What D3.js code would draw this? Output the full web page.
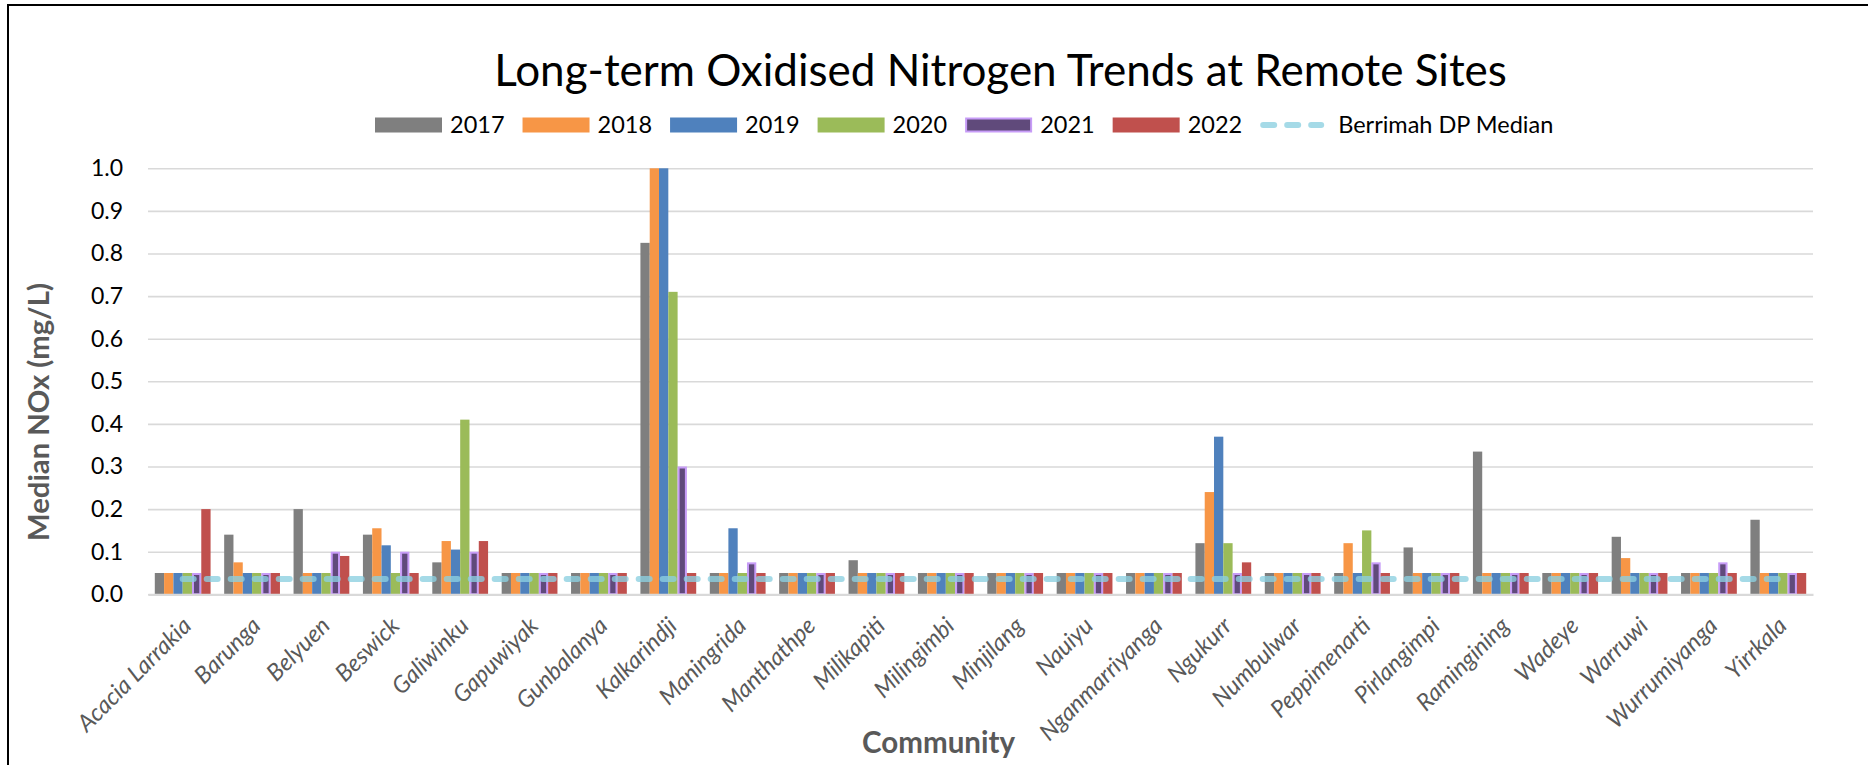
<!DOCTYPE html>
<html>
<head>
<meta charset="utf-8">
<script src="https://cdn.jsdelivr.net/npm/d3@7"></script>
<style>
  html, body { margin: 0; padding: 0; background: #fff; }
  svg { display: block; }
  text { font-family: Lato, "Open Sans", sans-serif; }
</style>
</head>
<body>
<svg id="chart" width="1868" height="765"></svg>
<script>
// ---------------- DATA ----------------
const categories = ["Acacia Larrakia","Barunga","Belyuen","Beswick","Galiwinku","Gapuwiyak","Gunbalanya","Kalkarindji","Maningrida","Manthathpe","Milikapiti","Milingimbi","Minjilang","Nauiyu","Nganmarriyanga","Ngukurr","Numbulwar","Peppimenarti","Pirlangimpi","Ramingining","Wadeye","Warruwi","Wurrumiyanga","Yirrkala"];
const years = ["2017","2018","2019","2020","2021","2022"];
const v2017 = [0.05,0.14,0.2,0.14,0.075,0.05,0.05,0.825,0.05,0.05,0.08,0.05,0.05,0.05,0.05,0.12,0.05,0.05,0.11,0.335,0.05,0.135,0.05,0.175];
const v2018 = [0.05,0.075,0.05,0.155,0.125,0.05,0.05,1.0,0.05,0.05,0.05,0.05,0.05,0.05,0.05,0.24,0.05,0.12,0.05,0.05,0.05,0.085,0.05,0.05];
const v2019 = [0.05,0.05,0.05,0.115,0.105,0.05,0.05,1.0,0.155,0.05,0.05,0.05,0.05,0.05,0.05,0.37,0.05,0.05,0.05,0.05,0.05,0.05,0.05,0.05];
const v2020 = [0.05,0.05,0.05,0.05,0.41,0.05,0.05,0.71,0.05,0.05,0.05,0.05,0.05,0.05,0.05,0.12,0.05,0.15,0.05,0.05,0.05,0.05,0.05,0.05];
const v2021 = [0.05,0.05,0.1,0.1,0.1,0.05,0.05,0.3,0.075,0.05,0.05,0.05,0.05,0.05,0.05,0.05,0.05,0.075,0.05,0.05,0.05,0.05,0.075,0.05];
const v2022 = [0.2,0.05,0.09,0.05,0.125,0.05,0.05,0.05,0.05,0.05,0.05,0.05,0.05,0.05,0.05,0.075,0.05,0.05,0.05,0.05,0.05,0.05,0.05,0.05];
const berrimahMedian = 0.036;
const yTickValues = [0,0.1,0.2,0.3,0.4,0.5,0.6,0.7,0.8,0.9,1.0];
const titleText = "Long-term Oxidised Nitrogen Trends at Remote Sites";
const yAxisTitle = "Median NOx (mg/L)";
const xAxisTitle = "Community";
const lineLabel = "Berrimah DP Median";

const seriesValues = [v2017, v2018, v2019, v2020, v2021, v2022];
const colors = ["#7f7f7f","#f79646","#4f81bd","#9bbb59","#604a7b","#c0504d"];
const strokes = [null,null,null,null,"#c79cf7",null];

// ---------------- LAYOUT ----------------
const svg = d3.select("#chart");
const plot = {left: 148, right: 1813, top: 168.3, bottom: 594.3};

// Outer frame
svg.append("rect").attr("x", 8).attr("y", 5).attr("width", 1900).attr("height", 800)
  .attr("fill", "none").attr("stroke", "#000").attr("stroke-width", 2);

const x = d3.scaleBand().domain(categories).range([plot.left, plot.right])
  .paddingInner(0.196).paddingOuter(0.098);
const xs = d3.scaleBand().domain(years).range([0, x.bandwidth()]).padding(0);
const y = d3.scaleLinear().domain([0, 1]).range([plot.bottom, plot.top]);

// Gridlines
const yAxis = d3.axisLeft(y).tickValues(yTickValues).tickFormat(d3.format(".1f"))
  .tickSize(-(plot.right - plot.left)).tickPadding(25);
const gy = svg.append("g").attr("transform", `translate(${plot.left},0)`).call(yAxis);
gy.select(".domain").remove();
gy.selectAll(".tick line").attr("stroke", "#d9d9d9").attr("stroke-width", 1.6);
gy.selectAll(".tick text").attr("font-size", 23).attr("fill", "#000")
  .attr("font-family", "Lato, sans-serif");

// Bars
const rows = categories.map((c, i) => ({cat: c, vals: years.map((yr, s) => ({yr, s, v: seriesValues[s][i]}))}));
const groups = svg.append("g").selectAll("g").data(rows).join("g")
  .attr("transform", d => `translate(${x(d.cat)},0)`);
groups.selectAll("rect").data(d => d.vals).join("rect")
  .attr("x", d => xs(d.yr) + (strokes[d.s] ? 1 : 0))
  .attr("width", d => xs.bandwidth() - (strokes[d.s] ? 2 : 0))
  .attr("y", d => y(d.v) + (strokes[d.s] ? 1 : 0))
  .attr("height", d => y(0) - y(d.v) - (strokes[d.s] ? 1 : 0))
  .attr("fill", d => colors[d.s])
  .attr("stroke", d => strokes[d.s] || "none")
  .attr("stroke-width", d => strokes[d.s] ? 2 : 0);

// Baseline axis
const xAxis = d3.axisBottom(x).tickSize(0).tickFormat("");
const gx = svg.append("g").attr("transform", `translate(0,${plot.bottom})`).call(xAxis);
gx.select(".domain").attr("stroke", "#d9d9d9").attr("stroke-width", 2.2);

// Median line
const line = d3.line().x(d => x(d) + x.bandwidth() / 2).y(() => y(berrimahMedian));
svg.append("path").datum(categories).attr("d", line)
  .attr("fill", "none").attr("stroke", "#8ccfe0").attr("stroke-opacity", 0.78)
  .attr("stroke-width", 6).attr("stroke-linecap", "round").attr("stroke-dasharray", "11,13");

// X labels
svg.append("g").selectAll("text").data(categories).join("text")
  .attr("transform", d => `translate(${x(d) + x.bandwidth() / 2 + 10},${plot.bottom + 33}) rotate(-45)`)
  .attr("text-anchor", "end")
  .attr("font-size", 23.5).attr("font-style", "italic").attr("fill", "#595959")
  .text(d => d);

// Fit helper
function fit(sel, target) {
  const w = sel.node().getComputedTextLength();
  const fs = parseFloat(sel.attr("font-size"));
  sel.attr("font-size", fs * target / w);
}

// Title
const t = svg.append("text").attr("x", 1000.5).attr("y", 86).attr("text-anchor", "middle")
  .attr("font-size", 44).attr("fill", "#000").text(titleText);
fit(t, 1013);

// Axis titles
const yt = svg.append("text").attr("transform", "translate(49,412) rotate(-90)")
  .attr("text-anchor", "middle").attr("font-size", 26).attr("font-weight", "bold")
  .attr("fill", "#595959").text(yAxisTitle);
fit(yt, 258);
const xt = svg.append("text").attr("x", 938.5).attr("y", 753).attr("text-anchor", "middle")
  .attr("font-size", 27).attr("font-weight", "bold").attr("fill", "#595959").text(xAxisTitle);
fit(xt, 153);

// Legend
const legend = svg.append("g");
let lx = 375;
const ly = 125;
years.forEach((yr, s) => {
  legend.append("rect").attr("x", lx + (strokes[s] ? 1 : 0)).attr("y", ly - 7.5 + (strokes[s] ? 1 : 0))
    .attr("width", 67 - (strokes[s] ? 2 : 0)).attr("height", 15 - (strokes[s] ? 2 : 0))
    .attr("fill", colors[s]).attr("stroke", strokes[s] || "none").attr("stroke-width", strokes[s] ? 2 : 0);
  const tx = legend.append("text").attr("x", lx + 75).attr("y", ly).attr("dy", "0.36em")
    .attr("font-size", 23.5).attr("fill", "#000").text(yr);
  lx += 67 + 8 + tx.node().getComputedTextLength() + 18;
});
legend.append("line").attr("x1", lx + 3).attr("x2", lx + 61).attr("y1", ly).attr("y2", ly)
  .attr("stroke", "#8ccfe0").attr("stroke-opacity", 0.78).attr("stroke-width", 6)
  .attr("stroke-linecap", "round").attr("stroke-dasharray", "11,13");
legend.append("text").attr("x", lx + 78).attr("y", ly).attr("dy", "0.36em")
  .attr("font-size", 23.5).attr("fill", "#000").text(lineLabel);
</script>
</body>
</html>
